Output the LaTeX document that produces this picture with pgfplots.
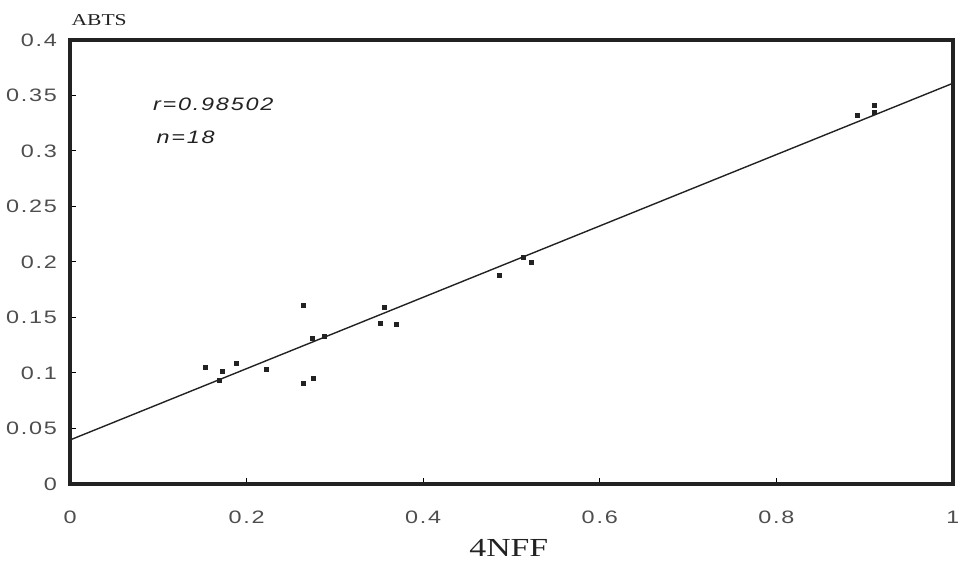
\documentclass[border=0pt]{standalone}
\usepackage{fontspec}
\setmainfont{Liberation Serif}
\setsansfont{Liberation Sans}
\newfontfamily\tickfont[FakeStretch=1.3,LetterSpace=10]{Liberation Sans}
\newfontfamily\labfont[FakeStretch=1.3]{Liberation Serif}
\usepackage{pgfplots}
\pgfplotsset{compat=1.18}
\definecolor{ink}{HTML}{222222}

\begin{document}
\begin{tikzpicture}
\begin{axis}[
    name=ax,
    scale only axis,
    width=441.5pt, height=222pt,
    xmin=0, xmax=1, ymin=0, ymax=0.4,
    xtick={0,0.2,0.4,0.6,0.8,1},
    xticklabels={0,0.2,0.4,0.6,0.8,1},
    ytick={0,0.05,0.1,0.15,0.2,0.25,0.3,0.35,0.4},
    yticklabels={0,0.05,0.1,0.15,0.2,0.25,0.3,0.35,0.4},
    xtick pos=bottom, ytick pos=left,
    tick align=inside,
    major tick length=3pt,
    tick style={black, line width=0.5pt},
    axis line style={ink, line width=1.6pt},
    ticklabel style={font=\tickfont\fontsize{9}{10}\selectfont, text=ink!80},
    xticklabel style={yshift=-10pt},
    yticklabel style={xshift=-3pt},
    xlabel={4NFF},
    ylabel={ABTS},
    xlabel style={at={(rel axis cs:0.497,-0.144)}, anchor=center,
        font=\labfont\fontsize{13}{15}\selectfont, text=ink},
    ylabel style={at={(rel axis cs:0.033,1.044)}, anchor=center, rotate=-90,
        font=\labfont\fontsize{8.3}{10}\selectfont, text=ink},
    clip=false,
]
% measured points
\addplot[only marks, mark=square*, mark size=1pt, ink] coordinates {
    (0.153,0.105) (0.173,0.101) (0.188,0.109) (0.169,0.093)
    (0.222,0.103) (0.264,0.161) (0.264,0.091) (0.276,0.095)
    (0.274,0.131) (0.288,0.133) (0.356,0.159) (0.352,0.145)
    (0.370,0.144) (0.486,0.188) (0.513,0.204) (0.523,0.200)
    (0.892,0.332) (0.911,0.341) (0.911,0.335)
};
% regression line
\addplot[ink, line width=0.7pt] coordinates {(0,0.0396) (1,0.361)};

\node[anchor=west, font=\tickfont\itshape\fontsize{9}{11}\selectfont, text=ink]
    at (rel axis cs:0.086,0.854) {r=0.98502};
\node[anchor=west, font=\tickfont\itshape\fontsize{9}{11}\selectfont, text=ink]
    at (rel axis cs:0.090,0.780) {n=18};

\coordinate (bl) at (rel axis cs:-0.0793,-0.178);
\coordinate (tr) at (rel axis cs:1.0057,1.090);
\end{axis}
\pgfresetboundingbox
\path[use as bounding box] (bl) rectangle (tr);
\end{tikzpicture}
\end{document}
